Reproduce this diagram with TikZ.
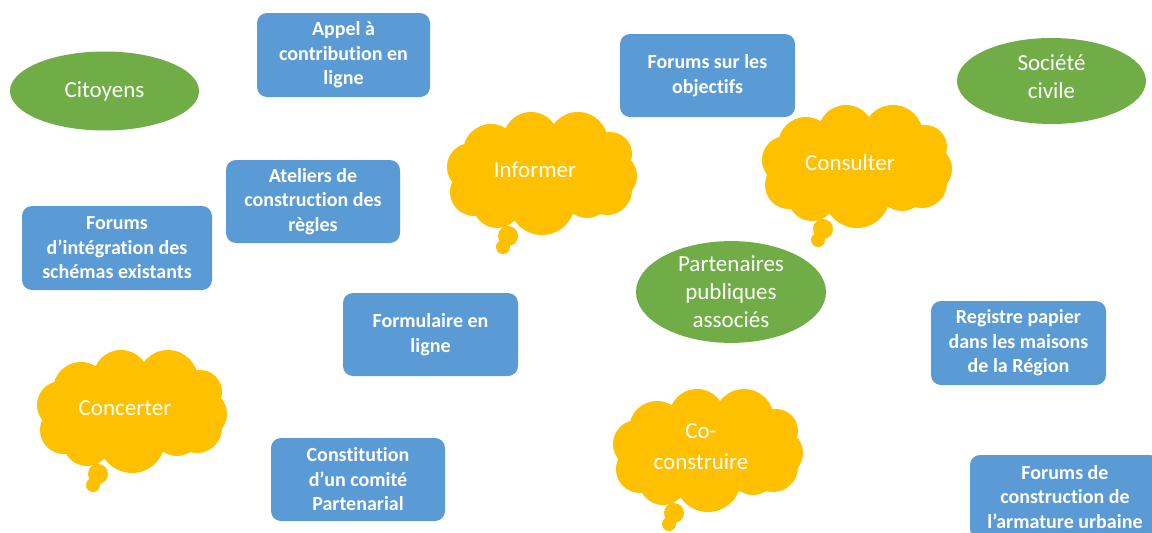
\documentclass[tikz,border=0pt]{standalone}
\usepackage{fontspec}
\setmainfont{Carlito}[Ligatures={NoCommon}]
\usetikzlibrary{shapes.geometric}
\definecolor{bluebox}{HTML}{5B9BD5}
\definecolor{greenell}{HTML}{70AD47}
\definecolor{yellowcl}{HTML}{FFC000}
\newcommand\mycloud[4]{%
\begin{scope}[shift={(#1,#2)}]
\fill[yellowcl] (44,40) circle (28pt) (84,28) circle (28pt) (131,30) circle (30pt)
  (163,42) circle (22pt) (166,64) circle (24pt) (160,78) circle (25pt) (140,82) circle (24pt)
  (95,90) circle (33pt) (50,92) circle (24pt) (27,80) circle (24pt) (24,55) circle (24pt)
  (95,62) ellipse (76pt and 44pt)
  (61,124) circle (10pt) (56,135) circle (7pt);
\node[cloudtext] (#3) at (88,58) {#4};
\end{scope}}
\begin{document}
\begin{tikzpicture}[x=1pt,y=-1pt,
  box/.style={fill=bluebox, rounded corners=10pt, text=white,
    font=\fontsize{20}{24.5}\selectfont\bfseries, align=center, inner sep=0pt},
  ellip/.style={ellipse, fill=greenell, text=white,
    font=\fontsize{23}{28}\selectfont, align=center, inner sep=0pt},
  cloudtext/.style={text=white, font=\fontsize{23}{31}\selectfont, align=center, inner sep=0pt}]
\useasboundingbox (0,0) rectangle (1152,533);
\clip (0,0) rectangle (1152,533);
\fill[white] (0,0) rectangle (1152,533);

% blue boxes
\node[box, minimum width=173pt, minimum height=84pt] (appel) at (343.5,55) {Appel à\\contribution en\\ligne};
\node[box, minimum width=175pt, minimum height=83pt] (fobj) at (707.5,75.5) {Forums sur les\\objectifs};
\node[box, minimum width=174pt, minimum height=83pt] (ateliers) at (313,201.5) {Ateliers de\\construction des\\règles};
\node[box, minimum width=190pt, minimum height=84pt] (fint) at (117,248) {Forums\\d’intégration des\\schémas existants};
\node[box, minimum width=175pt, minimum height=83pt] (formu) at (430.5,334.5) {Formulaire en\\ligne};
\node[box, minimum width=175pt, minimum height=84pt] (registre) at (1018.5,343) {Registre papier\\dans les maisons\\de la Région};
\node[box, minimum width=174pt, minimum height=83pt] (comite) at (358,479.5) {Constitution\\d’un comité\\Partenarial};
\node[box, minimum width=190pt, minimum height=84pt] (farm) at (1065,497) {Forums de\\construction de\\l’armature urbaine};

% green ellipses
\node[ellip, minimum width=189pt, minimum height=79pt] (cit) at (104.5,91) {\raisebox{-2pt}{Citoyens}};
\node[ellip, minimum width=189pt, minimum height=86pt] (soc) at (1051.5,81) {};
\node[ellip, fill=none] (soctext) at (1051.5,77) {Société\\civile};
\node[ellip, minimum width=190pt, minimum height=90pt] (part) at (731,292) {Partenaires\\publiques\\associés};

% clouds
\mycloud{447}{112}{informer}{Informer}
\mycloud{762}{105}{consulter}{Consulter}
\mycloud{37}{350}{concerter}{Concerter}
\mycloud{613}{389}{coconstruire}{Co-\\construire}
\end{tikzpicture}
\end{document}
